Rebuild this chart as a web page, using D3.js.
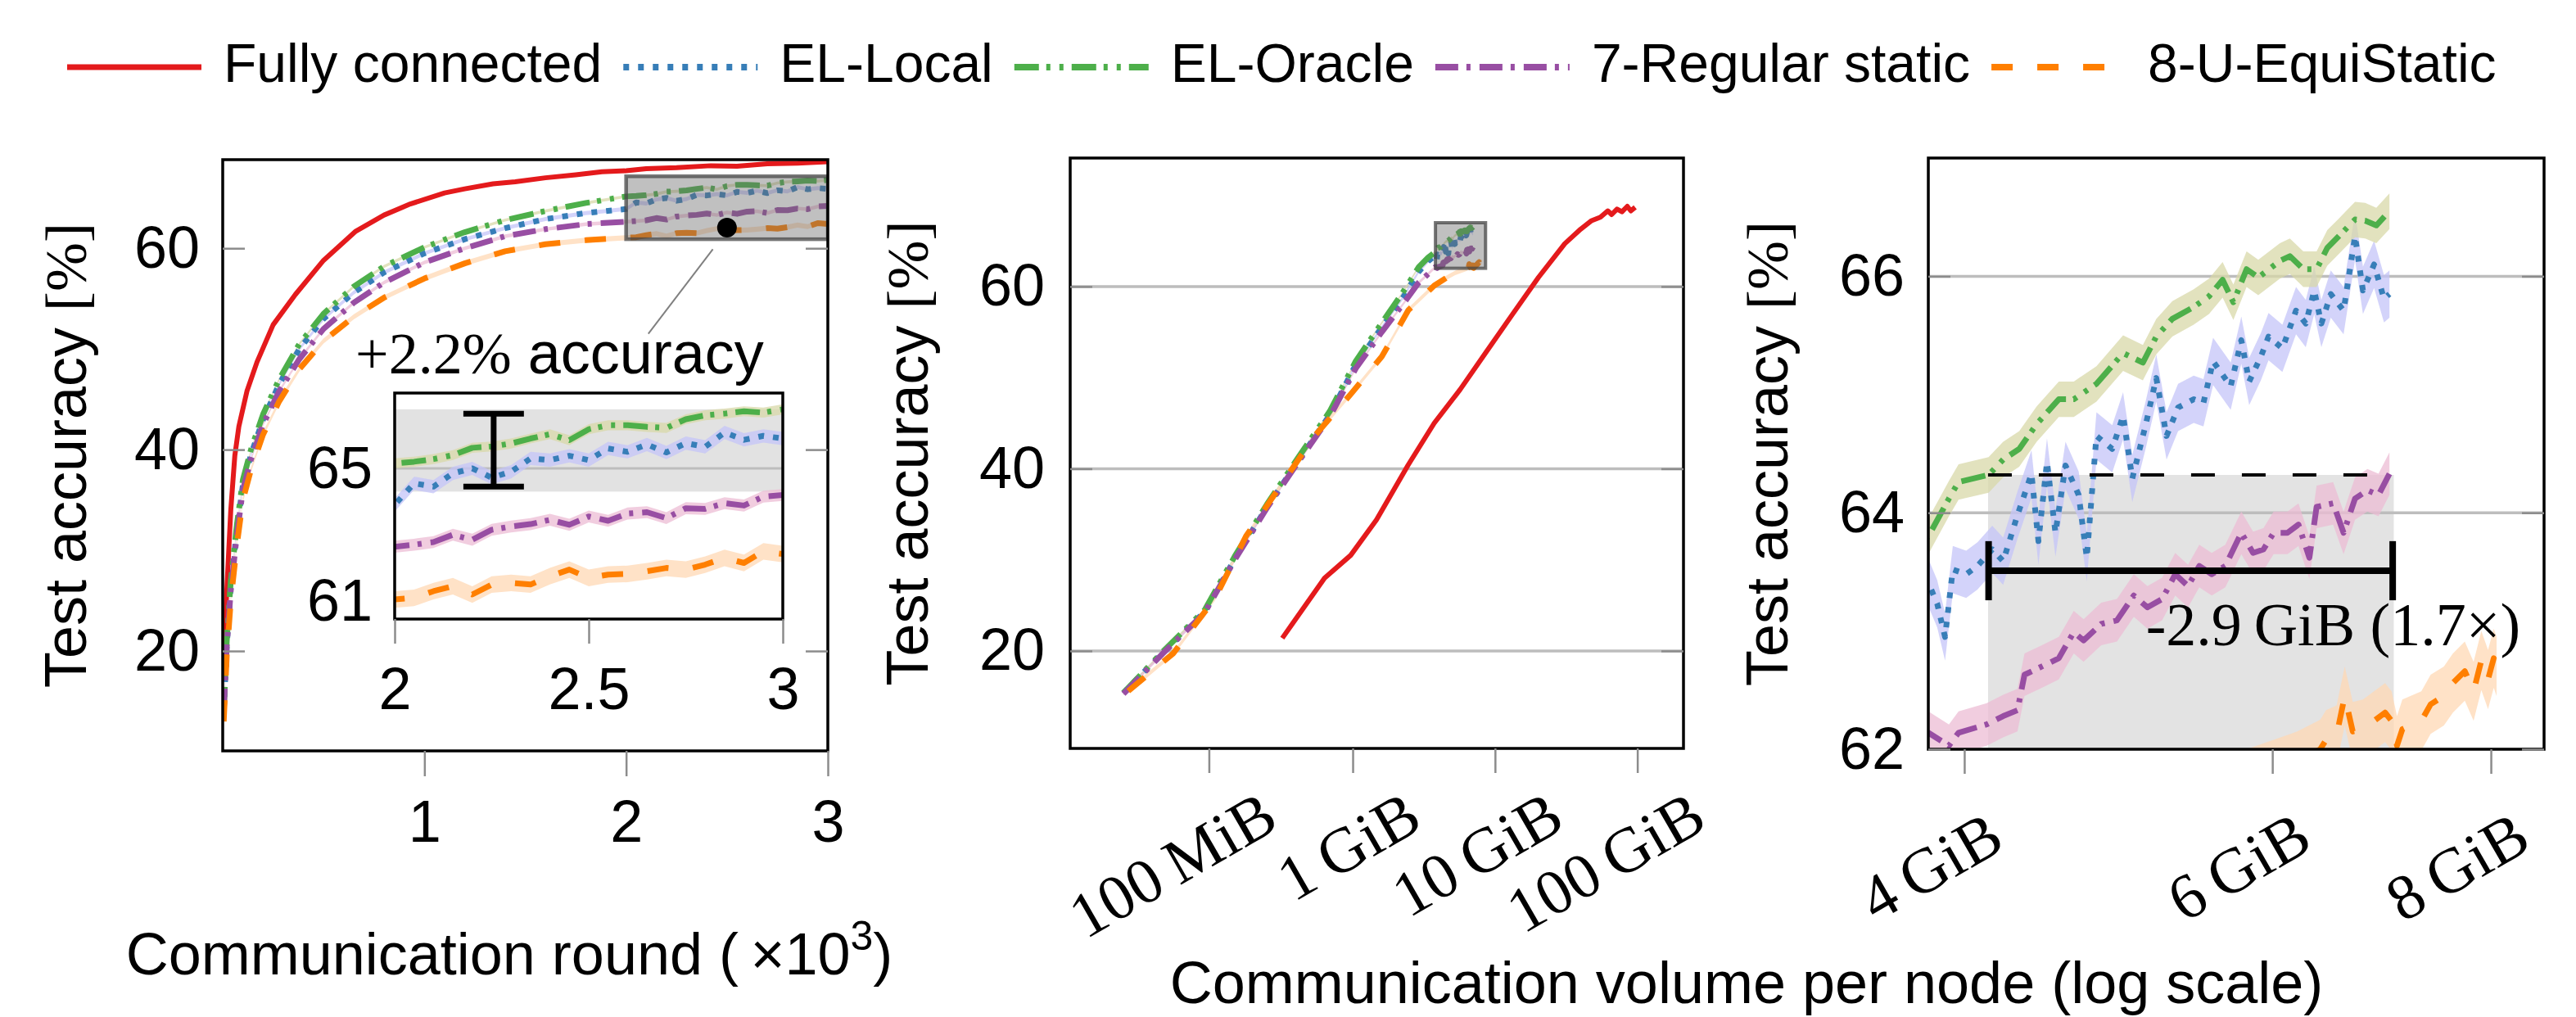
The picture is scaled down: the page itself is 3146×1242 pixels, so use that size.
<!DOCTYPE html>
<html>
<head>
<meta charset="utf-8">
<script src="https://cdn.jsdelivr.net/npm/d3@7"></script>
<style>
  html, body { margin: 0; padding: 0; background: #fff; }
  svg { display: block; }
</style>
</head>
<body>
<div id="chart"></div>
<script>
// series order: Fully connected, EL-Local, EL-Oracle, 7-Regular static, 8-U-EquiStatic
var seriesNames = ["Fully connected", "EL-Local", "EL-Oracle", "7-Regular static", "8-U-EquiStatic"];

// ---- left panel: accuracy vs communication round (x10^3) ----
var fcRounds = [0.005, 0.02, 0.04, 0.06, 0.08, 0.12, 0.17, 0.25, 0.36, 0.5, 0.66, 0.8, 0.93, 1.1, 1.2,
  1.34, 1.45, 1.6, 1.75, 1.88, 2.0, 2.1, 2.25, 2.42, 2.55, 2.7, 2.85, 3.0];
var fcAcc = [18, 26, 34, 39.4, 42.3, 45.8, 48.7, 52.4, 55.4, 58.8, 61.7, 63.3, 64.4, 65.5, 65.9,
  66.4, 66.6, 67.0, 67.3, 67.6, 67.7, 67.9, 68.0, 68.2, 68.15, 68.4, 68.45, 68.6];

var decRounds = [0.005, 0.02, 0.04, 0.07, 0.1, 0.14, 0.2, 0.28, 0.38, 0.5, 0.65, 0.8, 1.0, 1.2, 1.4, 1.6, 1.8,
  2.0, 2.05, 2.1, 2.15, 2.2, 2.25, 2.3, 2.35, 2.4, 2.45, 2.5, 2.55, 2.6, 2.65, 2.7, 2.75, 2.8, 2.85, 2.9, 2.95, 3.0];
var elLocalAcc = [14, 20.5, 26.5, 32, 36.5, 39.5, 43, 46.5, 50, 53, 55.6, 57.6, 59.5, 60.9, 62.0, 62.9, 63.5,
  63.9, 64.55, 64.45, 64.85, 65.0, 64.72, 64.9, 65.3, 65.25, 65.38, 65.25, 65.6, 65.5, 65.72, 65.48, 65.76,
  65.65, 66.08, 65.86, 65.98, 65.9];
var elOracleAcc = [14, 21, 27, 32.5, 37, 40, 43.5, 47, 50.5, 53.5, 56.2, 58.2, 60.1, 61.6, 62.8, 63.7, 64.5,
  65.15, 65.2, 65.28, 65.4, 65.62, 65.66, 65.75, 65.9, 66.03, 65.85, 66.18, 66.3, 66.3, 66.25, 66.22, 66.48,
  66.6, 66.65, 66.72, 66.68, 66.78];
var regularAcc = [14, 20.5, 26, 31.5, 36, 39, 42.5, 45.8, 49, 52, 54.6, 56.6, 58.6, 60.0, 61.2, 61.9, 62.4,
  62.64, 62.7, 62.78, 63.0, 62.85, 63.15, 63.25, 63.32, 63.45, 63.3, 63.55, 63.42, 63.64, 63.68, 63.5, 63.8,
  63.78, 63.95, 63.88, 64.15, 64.2];
var equiAcc = [13, 19.5, 25, 30.5, 35, 38, 41.5, 44.8, 48, 50.8, 53.2, 55.1, 57.0, 58.5, 59.7, 60.4, 60.8,
  61.05, 61.1, 61.3, 61.45, 61.2, 61.5, 61.55, 61.5, 61.75, 61.95, 61.7, 61.8, 61.82, 61.9, 62.0, 61.95,
  62.1, 62.3, 62.15, 62.5, 62.42];

// ---- middle / right panels: accuracy vs communication volume per node (GiB) ----
var fcVol = [0.32, 0.634, 0.968, 1.47, 2.45, 3.74, 5.69, 8.66, 13.2, 20.2, 30.9, 40, 47.3, 55, 62, 66, 72, 78, 85, 90, 96.6];
var fcVolAcc = [21.4, 28.0, 30.5, 34.4, 40.4, 45.0, 48.7, 52.8, 56.9, 61.0, 64.7, 66.3, 67.2, 67.6, 68.3, 67.9,
  68.5, 68.2, 68.8, 68.3, 68.7];

var decCoarseVol = [0.0245, 0.0462, 0.0912, 0.151, 0.25, 0.417, 0.69, 1.05, 1.6, 2.24, 2.9, 3.4];

var elLocalVol = decCoarseVol.concat([3.815, 3.86, 3.90, 3.94, 4.01, 4.07, 4.15, 4.21, 4.29, 4.37,
  4.41, 4.46, 4.51, 4.57, 4.65, 4.70, 4.76, 4.86, 4.93, 4.99, 5.08, 5.15, 5.22, 5.30, 5.41, 5.48, 5.55,
  5.68, 5.76, 5.82, 5.91, 5.97, 6.08, 6.19, 6.27, 6.34, 6.40, 6.48, 6.59, 6.69, 6.76, 6.86, 6.95, 7.00]);
var elLocalVolAcc = [15.4, 19.8, 24.3, 30.3, 35.8, 40.9, 45.9, 51.4, 55.5, 58.7, 61.6, 62.8,
  63.41, 63.23, 62.95, 63.52, 63.48, 63.55, 63.69, 63.59, 63.98, 64.33, 63.76, 64.43, 63.83, 64.40,
  64.15, 63.62, 64.65, 64.54, 64.82, 64.29, 64.75, 65.14, 64.65, 64.89, 64.96, 64.93, 65.28, 65.07,
  65.46, 65.11, 65.32, 65.49, 65.39, 65.71, 65.60, 65.88, 65.60, 65.85, 65.71, 66.34, 65.88, 66.10,
  65.81, 65.85];

var elOracleVol = decCoarseVol.concat([3.815, 3.92, 3.97, 4.13, 4.21, 4.30, 4.40, 4.53, 4.62, 4.76,
  4.93, 5.06, 5.15, 5.26, 5.41, 5.52, 5.62, 5.70, 5.80, 5.89, 6.06, 6.14, 6.25, 6.36, 6.45, 6.55, 6.69,
  6.78, 6.88, 7.00]);
var elOracleVolAcc = [15.4, 19.9, 24.5, 30.6, 36.1, 41.3, 46.3, 51.8, 56.0, 59.3, 62.1, 63.2,
  63.80, 64.12, 64.26, 64.32, 64.45, 64.54, 64.75, 64.96, 64.96, 65.09, 65.35, 65.27, 65.49, 65.64,
  65.74, 65.83, 65.97, 65.78, 66.06, 65.99, 66.13, 66.17, 66.06, 66.06, 66.24, 66.34, 66.48, 66.47,
  66.43, 66.55];

var regularVol = decCoarseVol.concat([3.815, 3.92, 3.97, 4.12, 4.21, 4.29, 4.33, 4.43, 4.53, 4.62,
  4.68, 4.79, 4.89, 5.00, 5.09, 5.19, 5.28, 5.37, 5.45, 5.54, 5.64, 5.76, 5.85, 5.93, 6.01, 6.12, 6.21,
  6.30, 6.36, 6.50, 6.59, 6.69, 6.80, 6.90, 7.00]);
var regularVolAcc = [15.3, 19.7, 24.2, 30.2, 35.7, 40.8, 45.7, 51.0, 55.0, 58.0, 60.4, 61.4,
  62.14, 62.03, 62.14, 62.21, 62.28, 62.33, 62.63, 62.70, 62.77, 62.99, 62.92, 63.06, 63.09, 63.30,
  63.20, 63.27, 63.48, 63.38, 63.55, 63.48, 63.55, 63.83, 63.66, 63.69, 63.83, 63.83, 63.90, 63.62,
  64.05, 64.08, 63.83, 64.12, 64.19, 64.15, 64.33];

var equiVol = [0.0265, 0.055, 0.108, 0.178, 0.295, 0.54, 0.97, 1.6, 2.46, 3.74, 4.6, 5.25, 5.8, 6.2,
  6.39, 6.44, 6.53, 6.60, 6.67, 6.76, 6.96, 7.02, 7.07, 7.12, 7.30, 7.39, 7.52, 7.61, 7.73, 7.82, 7.90,
  7.97, 8.03, 8.06];
var equiVolAcc = [15.6, 19.75, 25.8, 32.6, 37.6, 43.6, 48.2, 52.3, 57.4, 60.1, 61.0, 61.5, 61.75, 61.9,
  62.0, 62.08, 62.12, 62.45, 62.15, 62.17, 62.31, 62.24, 62.03, 62.17, 62.24, 62.38, 62.45, 62.56, 62.66,
  62.49, 62.75, 62.59, 62.77, 62.70];

// half width of the shaded spread, in accuracy points
var bandSpread = [0, 0.2, 0.15, 0.18, 0.25];

// ticks
var p1YTicks = [20, 40, 60], p1XTicks = [1, 2, 3];
var insetYTicks = [61, 65], insetXTicks = [2, 2.5, 3];
var p2YTicks = [20, 40, 60];
var p2XTicks = [100 / 1024, 1, 10, 100];
var p2XTickLabels = ["100\u2009MiB", "1\u2009GiB", "10\u2009GiB", "100\u2009GiB"];
var p3YTicks = [62, 64, 66], p3XTicks = [4, 6, 8];
var p3XTickLabels = ["4\u2009GiB", "6\u2009GiB", "8\u2009GiB"];

// annotations (data units)
var zoomRounds = [2.0, 3.0], zoomAcc = [60.9, 67.15];
var gapBand = [64.3, 66.78], gapBar = {x: 2.255, lo: 64.45, hi: 66.65};
var savedBox = {x0: 4.127, x1: 7.04, top: 64.32, dashEnd: 6.85};
var savedBar = {x0: 4.13, x1: 7.03, y: 63.51};

// ---- styles ----
var sans = '"Liberation Sans", Arial, Helvetica, sans-serif';
var serif = '"Liberation Serif", "Times New Roman", serif';
var colors = ["#e41a1c", "#377eb8", "#4daf4a", "#984ea3", "#ff7f00"];
var dashes = [null, "7 11", "30 9 5 11 5 10", "28 10 5 11", "26 30"];
var bandColors = [null, "#c4c4f8", "#d8d8a8", "#ecbcd4", "#ffd8b4"];
var tickGray = "#8c8c8c", gridGray = "#bdbdbd";
var intFmt = d3.format("d");

var width = 3146, height = 1242;

var svg = d3.select("#chart").append("svg")
  .attr("width", width)
  .attr("height", height)
  .style("font-family", sans);
svg.append("rect").attr("width", width).attr("height", height).attr("fill", "#fff");
var defs = svg.append("defs");

function addClip(id, x0, y0, x1, y1) {
  defs.append("clipPath").attr("id", id)
    .append("rect").attr("x", x0).attr("y", y0).attr("width", x1 - x0).attr("height", y1 - y0);
}

function drawCurves(g, xsList, ysList, x, y) {
  // spreads first, lines on top
  for (var i = 1; i < 5; i++) {
    var pts = xsList[i].map(function(v, k) { return [v, ysList[i][k]]; })
      .filter(function(d) { return d[1] !== undefined; });
    var s = bandSpread[i];
    var area = d3.area()
      .x(function(d) { return x(d[0]); })
      .y0(function(d) { return y(d[1] - s); })
      .y1(function(d) { return y(d[1] + s); });
    g.append("path").attr("d", area(pts)).attr("fill", bandColors[i]).attr("opacity", 0.75);
  }
  for (var j = 0; j < 5; j++) {
    var pts2 = xsList[j].map(function(v, k) { return [v, ysList[j][k]]; })
      .filter(function(d) { return d[1] !== undefined; });
    var line = d3.line()
      .x(function(d) { return x(d[0]); })
      .y(function(d) { return y(d[1]); });
    g.append("path")
      .attr("d", line(pts2))
      .attr("fill", "none")
      .attr("stroke", colors[j])
      .attr("stroke-width", j === 0 ? 6 : 7)
      .attr("stroke-linejoin", "round")
      .attr("stroke-dasharray", dashes[j]);
  }
}

function styleAxis(g) {
  g.attr("font-size", 72).attr("font-family", sans);
  g.select(".domain").remove();
  g.selectAll(".tick line").attr("stroke", tickGray).attr("stroke-width", 2.5);
  g.selectAll(".tick text").attr("fill", "#000");
}

function frame(x0, y0, x1, y1) {
  svg.append("rect")
    .attr("x", x0).attr("y", y0).attr("width", x1 - x0).attr("height", y1 - y0)
    .attr("fill", "none").attr("stroke", "#000").attr("stroke-width", 3.5);
}

function yLabel(xBase, yMid) {
  var t = svg.append("text")
    .attr("transform", "translate(" + xBase + "," + yMid + ") rotate(-90)")
    .attr("text-anchor", "middle")
    .attr("font-size", 72);
  t.append("tspan").text("Test accuracy ");
  t.append("tspan").attr("font-family", serif).text("[%]");
}

function slantedTicks(x, vals, labels, dx, yBase) {
  vals.forEach(function(v, i) {
    svg.append("text")
      .attr("transform", "translate(" + (x(v) + dx) + "," + yBase + ") rotate(-30)")
      .attr("text-anchor", "end")
      .attr("font-family", serif)
      .attr("font-size", 78)
      .text(labels[i]);
  });
}

// ---------------- legend ----------------
var legend = svg.append("g");
var lx = 82;
seriesNames.forEach(function(name, i) {
  legend.append("line")
    .attr("x1", lx).attr("x2", lx + 164).attr("y1", 82).attr("y2", 82)
    .attr("stroke", colors[i]).attr("stroke-width", i === 0 ? 7 : 8)
    .attr("stroke-dasharray", dashes[i]);
  var t = legend.append("text")
    .attr("x", lx + 191).attr("y", 100)
    .attr("font-size", 66)
    .text(name);
  lx = lx + 191 + t.node().getComputedTextLength() + 26;
});

// ---------------- panel 1 ----------------
var p1 = {l: 272, r: 1011, t: 195, b: 917};
var x1 = d3.scaleLinear().domain([0, 3]).range([p1.l, p1.r]);
var y1 = d3.scaleLinear().domain([10.08, 68.8]).range([p1.b, p1.t]);
addClip("clip1", p1.l, p1.t, p1.r, p1.b);

var g1 = svg.append("g").attr("clip-path", "url(#clip1)");
drawCurves(g1,
  [fcRounds, decRounds, decRounds, decRounds, decRounds],
  [fcAcc, elLocalAcc, elOracleAcc, regularAcc, equiAcc], x1, y1);

// zoomed region marker
g1.append("rect")
  .attr("x", x1(zoomRounds[0])).attr("y", y1(zoomAcc[1]))
  .attr("width", x1(zoomRounds[1]) - x1(zoomRounds[0]))
  .attr("height", y1(zoomAcc[0]) - y1(zoomAcc[1]))
  .attr("fill", "rgba(105,105,105,0.42)")
  .attr("stroke", "rgba(70,70,70,0.75)")
  .attr("stroke-width", 4.5);

svg.append("line")
  .attr("x1", x1(2.43)).attr("y1", y1(59.9))
  .attr("x2", x1(2.11)).attr("y2", y1(51.5))
  .attr("stroke", "#808080").attr("stroke-width", 2);
svg.append("circle")
  .attr("cx", x1(2.5)).attr("cy", y1(62.05)).attr("r", 12).attr("fill", "#000");

var ann = svg.append("text")
  .attr("x", x1(0.658)).attr("y", y1(47.6))
  .attr("font-size", 72);
ann.append("tspan").attr("font-family", serif).text("+2.2%");
ann.append("tspan").text(" accuracy");

frame(p1.l, p1.t, p1.r, p1.b);

var a1y = svg.append("g").attr("transform", "translate(" + p1.l + ",0)")
  .call(d3.axisLeft(y1).tickValues(p1YTicks).tickSize(-27).tickPadding(28).tickFormat(intFmt));
styleAxis(a1y);
var a1yr = svg.append("g").attr("transform", "translate(" + p1.r + ",0)")
  .call(d3.axisRight(y1).tickValues(p1YTicks).tickSize(-27).tickFormat(""));
styleAxis(a1yr);
var a1x = svg.append("g").attr("transform", "translate(0," + p1.b + ")")
  .call(d3.axisBottom(x1).tickValues(p1XTicks).tickSize(31).tickPadding(29).tickFormat(intFmt));
styleAxis(a1x);

yLabel(105, (p1.t + p1.b) / 2);

var xl1 = svg.append("text")
  .attr("x", 622).attr("y", 1190)
  .attr("text-anchor", "middle")
  .attr("font-size", 72);
xl1.append("tspan").text("Communication round (\u2009\u00d710");
xl1.append("tspan").attr("font-size", 50).attr("dy", -30).text("3");
xl1.append("tspan").attr("dy", 30).text(")");

// ---------------- inset ----------------
var ins = {l: 482, r: 956, t: 480, b: 756};
var ix = d3.scaleLinear().domain([2, 3]).range([ins.l, ins.r]);
var iy = d3.scaleLinear().domain([60.46, 67.27]).range([ins.b, ins.t]);
addClip("clipIn", ins.l, ins.t, ins.r, ins.b);

svg.append("rect")
  .attr("x", ins.l).attr("y", ins.t).attr("width", ins.r - ins.l).attr("height", ins.b - ins.t)
  .attr("fill", "#fff");
var gi = svg.append("g").attr("clip-path", "url(#clipIn)");
gi.append("rect")
  .attr("x", ins.l).attr("width", ins.r - ins.l)
  .attr("y", iy(gapBand[1])).attr("height", iy(gapBand[0]) - iy(gapBand[1]))
  .attr("fill", "#e2e2e2");
gi.append("line")
  .attr("x1", ins.l).attr("x2", ins.r).attr("y1", iy(65)).attr("y2", iy(65))
  .attr("stroke", gridGray).attr("stroke-width", 3);
drawCurves(gi,
  [fcRounds, decRounds, decRounds, decRounds, decRounds],
  [fcAcc, elLocalAcc, elOracleAcc, regularAcc, equiAcc], ix, iy);

// accuracy gap bar
var gb = svg.append("g").attr("stroke", "#000").attr("stroke-width", 7);
gb.append("line").attr("x1", ix(gapBar.x)).attr("x2", ix(gapBar.x))
  .attr("y1", iy(gapBar.lo)).attr("y2", iy(gapBar.hi));
[gapBar.lo, gapBar.hi].forEach(function(v) {
  gb.append("line")
    .attr("x1", ix(gapBar.x - 0.078)).attr("x2", ix(gapBar.x + 0.078))
    .attr("y1", iy(v)).attr("y2", iy(v));
});

frame(ins.l, ins.t, ins.r, ins.b);
var aiy = svg.append("g").attr("transform", "translate(" + ins.l + ",0)")
  .call(d3.axisLeft(iy).tickValues(insetYTicks).tickSize(0).tickPadding(27).tickFormat(intFmt));
styleAxis(aiy);
var aix = svg.append("g").attr("transform", "translate(0," + ins.b + ")")
  .call(d3.axisBottom(ix).tickValues(insetXTicks).tickSize(30).tickPadding(29).tickFormat(d3.format("")));
styleAxis(aix);

// ---------------- panel 2 ----------------
var p2 = {l: 1307, r: 2056, t: 193, b: 914};
var x2 = d3.scaleLog().domain([0.01035, 211]).range([p2.l, p2.r]);
var y2 = d3.scaleLinear().domain([9.3, 74.1]).range([p2.b, p2.t]);
addClip("clip2", p2.l, p2.t, p2.r, p2.b);

var volX = [fcVol, elLocalVol, elOracleVol, regularVol, equiVol];
var volY = [fcVolAcc, elLocalVolAcc, elOracleVolAcc, regularVolAcc, equiVolAcc];

var g2 = svg.append("g").attr("clip-path", "url(#clip2)");
p2YTicks.forEach(function(v) {
  g2.append("line")
    .attr("x1", p2.l).attr("x2", p2.r).attr("y1", y2(v)).attr("y2", y2(v))
    .attr("stroke", gridGray).attr("stroke-width", 3.5);
});
drawCurves(g2, volX, volY, x2, y2);

// the area shown on the right
g2.append("rect")
  .attr("x", x2(3.815)).attr("y", y2(67))
  .attr("width", x2(8.58) - x2(3.815)).attr("height", y2(62) - y2(67))
  .attr("fill", "rgba(105,105,105,0.42)")
  .attr("stroke", "rgba(70,70,70,0.75)")
  .attr("stroke-width", 4);

frame(p2.l, p2.t, p2.r, p2.b);
var a2y = svg.append("g").attr("transform", "translate(" + p2.l + ",0)")
  .call(d3.axisLeft(y2).tickValues(p2YTicks).tickSize(-27).tickPadding(31).tickFormat(intFmt));
styleAxis(a2y);
var a2yr = svg.append("g").attr("transform", "translate(" + p2.r + ",0)")
  .call(d3.axisRight(y2).tickValues(p2YTicks).tickSize(-27).tickFormat(""));
styleAxis(a2yr);
var a2x = svg.append("g").attr("transform", "translate(0," + p2.b + ")")
  .call(d3.axisBottom(x2).tickValues(p2XTicks).tickSize(30).tickFormat(""));
styleAxis(a2x);
slantedTicks(x2, p2XTicks, p2XTickLabels, 88, 1010);
yLabel(1133, (p2.t + p2.b) / 2);

// ---------------- panel 3 ----------------
var p3 = {l: 2355, r: 3107, t: 193, b: 915};
var x3 = d3.scaleLog().domain([3.815, 8.58]).range([p3.l, p3.r]);
var y3 = d3.scaleLinear().domain([62, 67]).range([p3.b, p3.t]);
addClip("clip3", p3.l, p3.t, p3.r, p3.b);

var g3 = svg.append("g").attr("clip-path", "url(#clip3)");
g3.append("rect")
  .attr("x", x3(savedBox.x0)).attr("y", y3(savedBox.top))
  .attr("width", x3(savedBox.x1) - x3(savedBox.x0))
  .attr("height", y3(62) - y3(savedBox.top))
  .attr("fill", "#e3e3e3");
p3YTicks.forEach(function(v) {
  g3.append("line")
    .attr("x1", p3.l).attr("x2", p3.r).attr("y1", y3(v)).attr("y2", y3(v))
    .attr("stroke", gridGray).attr("stroke-width", 3.5);
});
drawCurves(g3, volX, volY, x3, y3);

g3.append("line")
  .attr("x1", x3(savedBox.x0)).attr("x2", x3(savedBox.dashEnd))
  .attr("y1", y3(savedBox.top)).attr("y2", y3(savedBox.top))
  .attr("stroke", "#000").attr("stroke-width", 4).attr("stroke-dasharray", "29 33");

var sb = g3.append("g").attr("stroke", "#000").attr("stroke-width", 8);
sb.append("line")
  .attr("x1", x3(savedBar.x0)).attr("x2", x3(savedBar.x1))
  .attr("y1", y3(savedBar.y)).attr("y2", y3(savedBar.y));
[savedBar.x0, savedBar.x1].forEach(function(v) {
  sb.append("line")
    .attr("x1", x3(v)).attr("x2", x3(v))
    .attr("y1", y3(savedBar.y - 0.25)).attr("y2", y3(savedBar.y + 0.25));
});
svg.append("text")
  .attr("x", x3(5.08)).attr("y", y3(62.88))
  .attr("font-family", serif)
  .attr("font-size", 74)
  .text("-2.9\u2009GiB (1.7\u00d7)");

frame(p3.l, p3.t, p3.r, p3.b);
var a3y = svg.append("g").attr("transform", "translate(" + p3.l + ",0)")
  .call(d3.axisLeft(y3).tickValues(p3YTicks).tickSize(-27).tickPadding(29).tickFormat(intFmt));
styleAxis(a3y);
var a3yr = svg.append("g").attr("transform", "translate(" + p3.r + ",0)")
  .call(d3.axisRight(y3).tickValues(p3YTicks).tickSize(-27).tickFormat(""));
styleAxis(a3yr);
var a3x = svg.append("g").attr("transform", "translate(0," + p3.b + ")")
  .call(d3.axisBottom(x3).tickValues(p3XTicks).tickSize(30).tickFormat(""));
styleAxis(a3x);
slantedTicks(x3, p3XTicks, p3XTickLabels, 52, 1035);
yLabel(2183, (p3.t + p3.b) / 2);

svg.append("text")
  .attr("x", 2133).attr("y", 1225)
  .attr("text-anchor", "middle")
  .attr("font-size", 72)
  .text("Communication volume per node (log scale)");
</script>
</body>
</html>
